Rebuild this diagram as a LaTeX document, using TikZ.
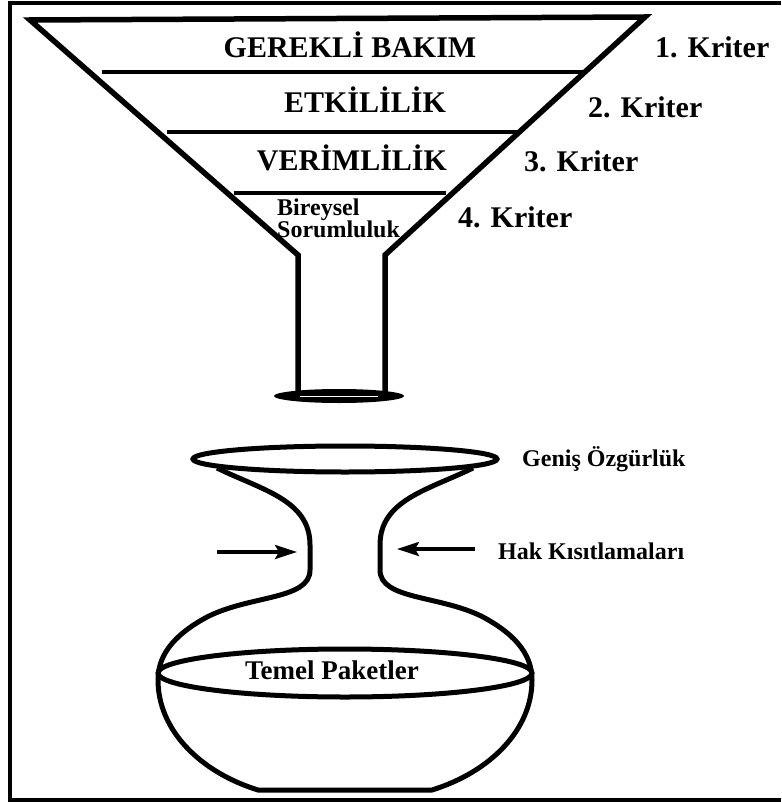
\documentclass[tikz,border=0pt]{standalone}
\usepackage{fontspec}
\setmainfont{Liberation Serif}
\usetikzlibrary{arrows.meta}
\begin{document}
\begin{tikzpicture}[x=1pt, y=-1pt, line join=miter,
  baslik/.style={font=\bfseries\fontsize{30}{36}\selectfont, anchor=base, inner sep=0pt},
  kriter/.style={font=\bfseries\fontsize{30}{36}\selectfont, anchor=base west, inner sep=0pt},
  yan/.style={font=\bfseries\fontsize{24}{28}\selectfont, anchor=base west, inner sep=0pt},
  kisit/.style={line width=3.5pt, -{Stealth[length=22pt, width=14pt, inset=4pt]}}]
  \useasboundingbox (0,0) rectangle (781,802);
  \draw[line width=4pt] (781,3) -- (10,3) -- (10,800) -- (781,800);
  \draw[line width=5.5pt] (298,393) -- (298,255) -- (30,20) -- (645,17) -- (385,255) -- (385,393);
  \draw[line width=3.5pt] (102,72) -- (584,72);
  \draw[line width=3.5pt] (167,132) -- (518,132);
  \draw[line width=3.5pt] (234,193) -- (446,193);
  \fill (339,396) ellipse [x radius=65, y radius=7];
  \draw[white, line width=1pt] (300,396) -- (378,396);
  \node[baslik] (gerekli) at (350,58) {GEREKLİ BAKIM};
  \node[baslik] (etkililik) at (365,113) {ETKİLİLİK};
  \node[baslik] (verimlilik) at (352,171) {VERİMLİLİK};
  \node[yan] (bireysel) at (277,215) {Bireysel};
  \node[yan] (sorumluluk) at (277,237) {Sorumluluk};
  \node[kriter] (kriter1) at (655,58) {1. Kriter};
  \node[kriter] (kriter2) at (588,118) {2. Kriter};
  \node[kriter] (kriter3) at (524,172) {3. Kriter};
  \node[kriter] (kriter4) at (458,228) {4. Kriter};
  \draw[line width=5pt] (217,468) .. controls (262,490) and (310,500) .. (310,545) -- (310,570)
    .. controls (310,600) and (250,595) .. (207,617) .. controls (170,637) and (158,658) .. (158,680)
    .. controls (158,730) and (200,772) .. (258,790) -- (432,790)
    .. controls (490,772) and (532,730) .. (532,680) .. controls (532,658) and (520,637) .. (483,617)
    .. controls (440,595) and (380,600) .. (380,570) -- (380,545)
    .. controls (380,500) and (428,490) .. (473,468);
  \draw[line width=5pt] (345,459) ellipse [x radius=152, y radius=13];
  \draw[line width=5pt] (345,673) ellipse [x radius=187, y radius=24];
  \node[font=\bfseries\fontsize{27}{32}\selectfont, anchor=base, inner sep=0pt] (temel) at (332,679) {Temel Paketler};
  \node[yan] (genis) at (522,466) {Geniş Özgürlük};
  \node[yan] (hak) at (498,559) {Hak Kısıtlamaları};
  \coordinate (solok) at (217,552);
  \coordinate (soluc) at (297,552);
  \coordinate (sagok) at (475,549);
  \coordinate (saguc) at (397,549);
  \draw[kisit] (solok) -- (soluc);
  \draw[kisit] (sagok) -- (saguc);
\end{tikzpicture}
\end{document}
